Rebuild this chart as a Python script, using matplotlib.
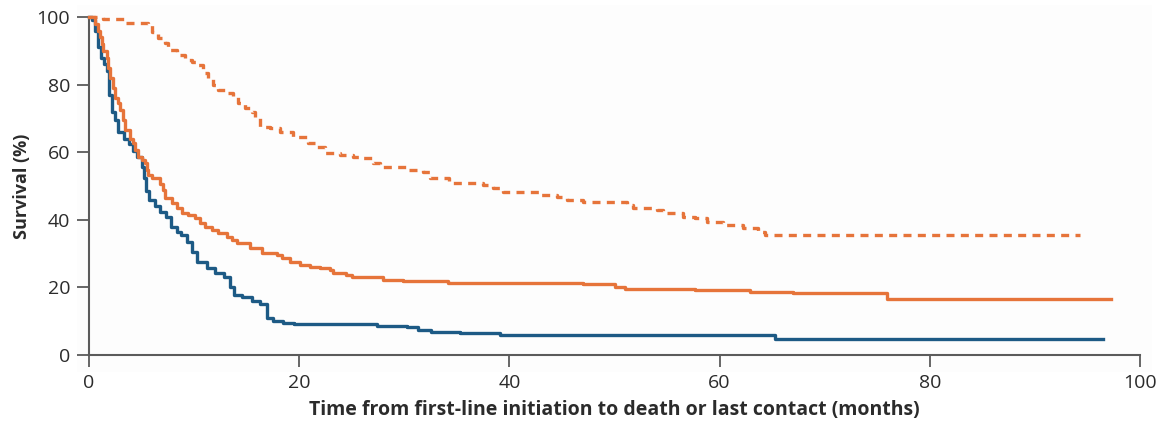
import matplotlib
matplotlib.use("Agg")
import matplotlib.pyplot as plt
from matplotlib.patches import Rectangle

# ---- data (months, survival %) ----
blue_t = [0, 0.3, 0.6, 0.9, 1.1, 1.4, 1.7, 1.9, 2.2, 2.5, 2.8, 3.3, 3.8, 4.2, 4.6,
          5.0, 5.2, 5.4, 5.7, 6.3, 6.8, 7.3, 7.8, 8.4, 8.8, 9.3, 9.8, 10.3, 11.2,
          12.0, 12.8, 13.4, 13.8, 14.6, 15.5, 16.3, 16.9, 17.5, 18.5, 19.5, 27.4,
          30.3, 31.3, 32.5, 35.3, 39.1, 65.3]
blue_s = [100, 99, 96, 91, 88, 86, 84, 77, 72, 69.5, 66, 64, 62.5, 60.5, 58.5,
          55.5, 52.5, 48.5, 46, 44, 42.3, 40.8, 38, 36.5, 35.5, 33.5, 30.5, 27.5,
          25.7, 24.3, 23.1, 20.1, 17.8, 17.2, 16, 15, 11, 10, 9.6, 9.3, 8.7, 8.3,
          7.4, 6.8, 6.5, 6.0, 4.6]
blue_end = 96.5

orange_t = [0, 0.6, 0.9, 1.05, 1.2, 1.35, 1.7, 1.8, 2.0, 2.3, 2.5, 2.8, 2.95, 3.25,
            3.45, 3.9, 4.2, 4.4, 4.7, 5.0, 5.3, 5.5, 5.6, 6.0, 6.75, 7.0, 7.2, 7.9,
            8.4, 8.85, 9.4, 10.1, 10.6, 11.0, 11.7, 12.3, 13.1, 13.6, 14.1, 15.3,
            16.5, 17.9, 18.4, 19.1, 20.1, 21.0, 22.0, 22.9, 23.2, 24.5, 25.0, 28.0,
            29.9, 34.2, 47.0, 50.0, 51.0, 57.7, 62.9, 67.0, 75.9]
orange_s = [100, 98, 96, 94, 92, 90, 88, 85, 82, 79, 76, 74.5, 72.5, 69.5, 66.6,
            64, 62.7, 60.6, 58.6, 57.7, 56.8, 54.7, 53.3, 52.4, 50.5, 48.8, 46.4,
            45, 43.5, 42, 41.4, 40.5, 39, 37.9, 37, 36, 35, 34, 33, 31.7, 30.2,
            29.6, 28.7, 27.5, 26.6, 26, 25.7, 25.1, 24.3, 23.7, 23.1, 22.2, 21.9,
            21.3, 20.9, 20.2, 19.6, 19.1, 18.7, 18.2, 16.6]
orange_end = 97.2

dashed_t = [0, 1.3, 3.4, 5.6, 6.0, 6.6, 7.2, 7.5, 8.4, 9.1, 9.8, 10.4, 10.8, 11.3,
            11.8, 12.3, 13.1, 13.7, 14.2, 14.8, 15.5, 15.8, 16.3, 17.2, 18.2, 19.4,
            20.8, 21.7, 22.5, 23.9, 25.1, 25.8, 27.0, 27.7, 30.3, 31.8, 32.4, 34.3,
            37.5, 38.4, 39.4, 42.9, 44.5, 45.5, 47.0, 51.2, 51.8, 54.0, 54.6, 56.5,
            57.7, 58.8, 60.3, 62.2, 63.7, 64.3]
dashed_s = [100, 99.5, 98.2, 97.6, 95.6, 93.8, 92.3, 90.2, 88.8, 87.3, 86.7, 85.8,
            83.4, 82, 79.9, 78.4, 77.5, 76.3, 74.6, 73.1, 71.9, 70.1, 67.5, 67.2,
            66, 64.5, 62.7, 61.5, 59.8, 59.2, 58.6, 58.3, 56.8, 55.6, 54.7, 54.1,
            52.4, 50.9, 50.3, 49.4, 48.2, 47.3, 46.7, 45.9, 45.3, 44.4, 43.5, 42.9,
            42, 40.8, 40.5, 39.3, 38.5, 37.6, 36.4, 35.5]
dashed_end = 94.3

x_ticks = [0, 20, 40, 60, 80, 100]
y_ticks = [0, 20, 40, 60, 80, 100]
x_label = "Time from first-line initiation to death or last contact (months)"
y_label = "Survival (%)"

BLUE = "#1d5a85"
ORANGE = "#e6743a"
AXIS = "#5b5b5b"
TEXT = "#2b2b2b"

plt.rcParams["font.family"] = ["Open Sans", "DejaVu Sans"]

fig = plt.figure(figsize=(11.71, 4.24), dpi=100)
bg = Rectangle((77 / 1171, 1 - 372 / 424), (1152 - 77) / 1171, (372 - 5) / 424,
               transform=fig.transFigure, facecolor="#fdfdfd",
               edgecolor="none", zorder=-10)
fig.add_artist(bg)
ax = fig.add_axes([89 / 1171, 1 - 355 / 424, (1140 - 89) / 1171, (355 - 17) / 424])
ax.set_zorder(1)
ax.set_facecolor("none")
ax.patch.set_alpha(0)


def steps(t, s, end):
    return list(t) + [end], list(s) + [s[-1]]


lw = 2.4
xt, ys = steps(dashed_t, dashed_s, dashed_end)
ax.step(xt, ys, where="post", color=ORANGE, lw=lw, dashes=(2.4, 1.9),
        clip_on=False, zorder=3)
xt, ys = steps(blue_t, blue_s, blue_end)
ax.step(xt, ys, where="post", color=BLUE, lw=lw, clip_on=False, zorder=4)
xt, ys = steps(orange_t, orange_s, orange_end)
ax.step(xt, ys, where="post", color=ORANGE, lw=lw, clip_on=False, zorder=5)

ax.set_xlim(0, 100)
ax.set_ylim(0, 100)
ax.set_xticks(x_ticks)
ax.set_yticks(y_ticks)
for s in ["top", "right"]:
    ax.spines[s].set_visible(False)
for s in ["left", "bottom"]:
    ax.spines[s].set_color(AXIS)
    ax.spines[s].set_linewidth(1.5)
ax.tick_params(axis="both", direction="out", length=8.5, width=1.3, color=AXIS,
               labelsize=14, labelcolor=TEXT, pad=5)
ax.set_xlabel(x_label, fontsize=14, fontweight="bold", color=TEXT, labelpad=6)
ax.set_ylabel(y_label, fontsize=13, fontweight="bold", color=TEXT, labelpad=4)

fig.savefig("out.png", dpi=100)
